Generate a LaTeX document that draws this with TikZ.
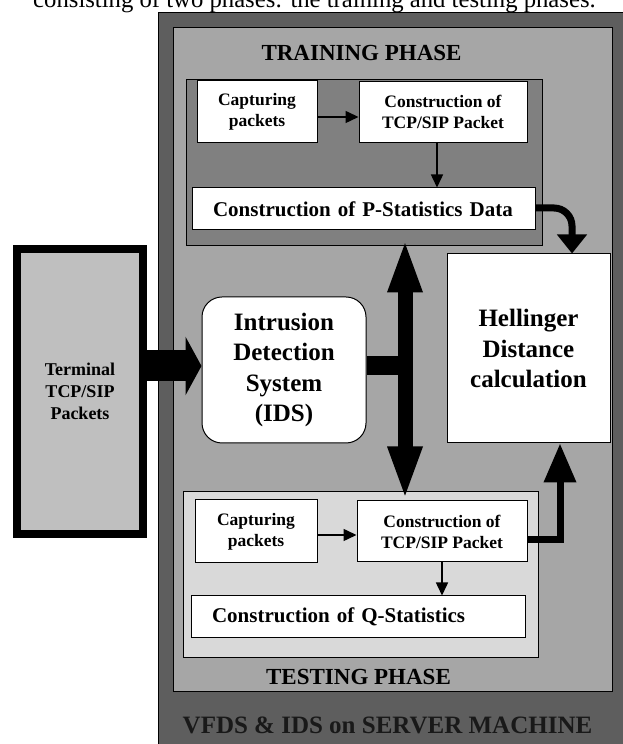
\documentclass[tikz,border=0pt]{standalone}
\usepackage{fontspec}
\setmainfont{Liberation Serif}
\usetikzlibrary{shapes,arrows.meta,positioning}
\definecolor{serverfill}{HTML}{5E5E5E}
\definecolor{phasefill}{HTML}{A6A6A6}
\definecolor{trainfill}{HTML}{808080}
\definecolor{testfill}{HTML}{D9D9D9}
\definecolor{termfill}{HTML}{BFBFBF}
\tikzstyle{panel} = [rectangle, draw, line width=0.8pt, inner sep=0pt]
\tikzstyle{block} = [rectangle, draw, line width=1pt, fill=white, text centered,
    align=center, inner sep=0pt, minimum width=120pt, minimum height=62pt,
    font=\bfseries\fontsize{17.5}{21}\selectfont]
\tikzstyle{statblock} = [rectangle, draw, line width=1pt, fill=white, align=left,
    inner xsep=21pt, inner ysep=0pt, minimum height=42pt,
    font=\bfseries\fontsize{21}{25}\selectfont]
\tikzstyle{bigblock} = [rectangle, draw, line width=1pt, fill=white, align=center,
    inner sep=0pt, font=\bfseries\fontsize{25}{30.5}\selectfont]
\tikzstyle{phaselabel} = [font=\bfseries\fontsize{23}{27}\selectfont]
\tikzstyle{line} = [draw, line width=1.5pt, -{Triangle[length=13pt,width=12pt]}]
\tikzstyle{fat} = [draw, line width=7pt]
\begin{document}
\begin{tikzpicture}[x=1pt, y=1pt, node distance=186pt]
    \useasboundingbox (0,0) rectangle (622,744);
    % Place panels
    \node [panel, fill=serverfill, minimum width=474pt, minimum height=748pt] (server) at (395,358) {};
    \node [panel, fill=phasefill, minimum width=439pt, minimum height=664pt] (phases) at (392.5,385) {};
    \node [panel, fill=trainfill, minimum width=356pt, minimum height=166pt] (training) at (364,582) {};
    \node [panel, fill=testfill, minimum width=355pt, minimum height=166pt] (testing) at (360.5,170) {};
    % Place nodes
    \node [block] (cap1) at (257,632) {Capturing\\packets};
    \node [block, right of=cap1, minimum width=168pt, minimum height=61pt] (tcp1) {Construction of\\TCP/SIP Packet};
    \node [statblock, text width=301pt] (pstat) at (363.5,535) {Construction of P-Statistics Data};
    \node [block, minimum width=122pt, minimum height=63pt] (cap2) at (256,212.5) {Capturing\\packets};
    \node [block, right of=cap2, minimum width=170pt, minimum height=61pt] (tcp2) {Construction of\\TCP/SIP Packet};
    \node [statblock, text width=292pt] (qstat) at (358,127) {Construction of Q-Statistics};
    \node [rectangle, draw, line width=8pt, fill=termfill, align=center, minimum width=126pt,
        minimum height=285pt, font=\bfseries\fontsize{18}{22}\selectfont] (terminal) at (80,352.5) {Terminal\\TCP/SIP\\Packets};
    \node [bigblock, rounded corners=20pt, minimum width=164pt, minimum height=146pt] (ids) at (284,374) {Intrusion\\Detection\\System\\(IDS)};
    \node [bigblock, minimum width=163pt, minimum height=189pt] (hell) at (528.5,395.5) {Hellinger\\Distance\\calculation};
    % Labels
    \node [phaselabel] (trainlbl) at (361.5,691) {TRAINING PHASE};
    \node [phaselabel] (testlbl) at (358.5,67) {TESTING PHASE};
    \node [font=\bfseries\fontsize{25}{30}\selectfont, text=black!90] (serverlbl) at (387.5,19) {VFDS \& IDS on SERVER MACHINE};
    \node [anchor=base, font=\fontsize{24.7}{29}\selectfont] (caption) at (314.5,736) {consisting of two phases: the training and testing phases.};
    % Draw edges
    \coordinate (bus) at (405,378);
    \path [line] ([yshift=-5pt]cap1.east) -- ([yshift=-5pt]cap1.east -| tcp1.west);
    \path [line] ([xshift=-6pt]tcp1.south) -- ([xshift=-6pt]tcp1.south |- pstat.north);
    \path [line] ([yshift=-3.5pt]cap2.east) -- ([yshift=-3.5pt]cap2.east -| tcp2.west);
    \path [line] (tcp2.south) -- (tcp2.south |- qstat.north);
    \path [draw, line width=31pt, -{Triangle[length=16pt,width=58pt]}] (terminal.east |- bus) -- (ids.west |- bus);
    \path [draw, line width=19pt] (ids.east |- bus) -- (bus);
    \path [draw, line width=15pt, {Triangle[length=54pt,width=31pt]}-{Triangle[length=54pt,width=31pt]},
        shorten <=-7pt] (bus |- training.south) -- (bus |- tcp2.north);
    \path [fat, -{Triangle[length=19pt,width=29pt]}, rounded corners=18pt] ([yshift=1pt]pstat.east) -| ([xshift=43.5pt]hell.north);
    \path [fat, -{Triangle[length=39pt,width=31pt]}] ([yshift=-8.5pt]tcp2.east) -| ([xshift=31.5pt]hell.south);
\end{tikzpicture}
\end{document}
